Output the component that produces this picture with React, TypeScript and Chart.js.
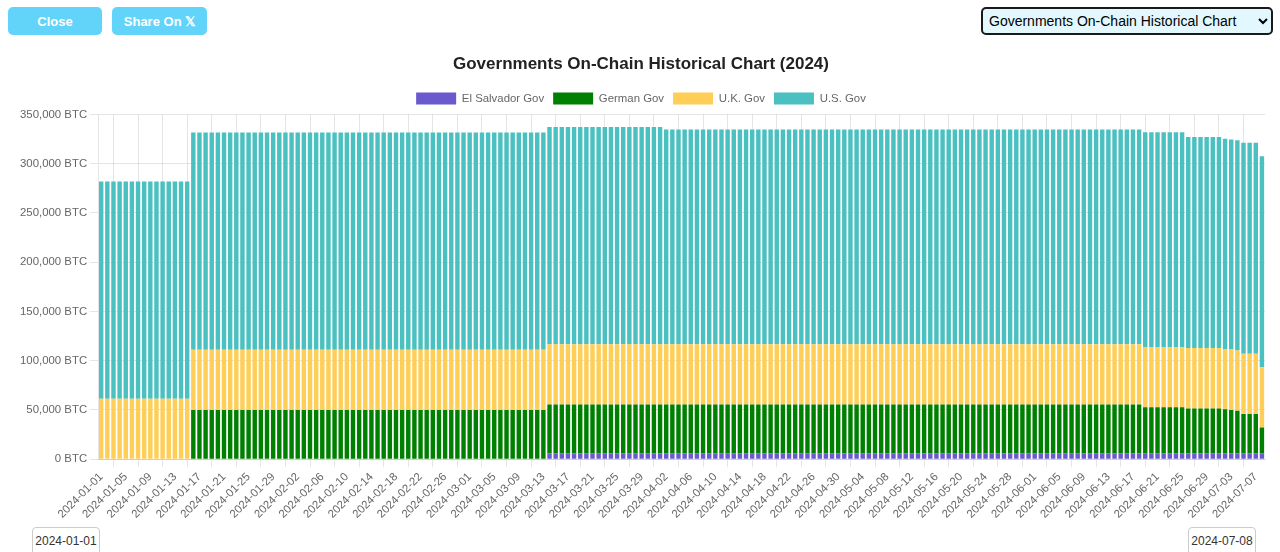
import React, { useEffect, useRef } from "react";
import { Chart, registerables } from "chart.js";

Chart.register(...registerables);

// ---- data ----
const START_DATE = "2024-01-01";
const DAY_COUNT = 190;
const END_DATE = "2024-07-08";

const seriesNames = ["El Salvador Gov", "German Gov", "U.K. Gov", "U.S. Gov"];
const seriesColors = ["#6a5acd", "#008000", "#ffce56", "#4bc0c0"];

// runs of [number of days, BTC held]
const elSalvadorRuns: [number, number][] = [
  [73, 0],
  [117, 5700],
];
const germanRuns: [number, number][] = [
  [15, 0],
  [155, 49800],
  [7, 47000],
  [6, 45800],
  [1, 45000],
  [1, 44300],
  [1, 43500],
  [3, 40000],
  [1, 26300],
];
const ukRuns: [number, number][] = [[190, 61200]];
const usRuns: [number, number][] = [
  [92, 220600],
  [85, 218000],
  [6, 214300],
  [3, 213300],
  [4, 214300],
];

const yTickStep = 50000;
const yMax = 350000;

function expandRuns(runs: [number, number][]): number[] {
  const out: number[] = [];
  for (const [n, v] of runs) for (let i = 0; i < n; i++) out.push(v);
  return out;
}

function buildDates(): string[] {
  const out: string[] = [];
  const d = new Date(START_DATE + "T00:00:00Z");
  for (let i = 0; i < DAY_COUNT; i++) {
    out.push(d.toISOString().slice(0, 10));
    d.setUTCDate(d.getUTCDate() + 1);
  }
  return out;
}

const FONT = 'Arial, "Liberation Sans", Helvetica, sans-serif';
const SMALL = 11.4;

export default function App() {
  const canvasRef = useRef<HTMLCanvasElement | null>(null);

  useEffect(() => {
    document.body.style.margin = "0";
    if (!canvasRef.current) return;
    const labels = buildDates();
    const allRuns = [elSalvadorRuns, germanRuns, ukRuns, usRuns];
    const chart = new Chart(canvasRef.current, {
      type: "bar",
      data: {
        labels,
        datasets: seriesNames.map((name, i) => ({
          label: name,
          data: expandRuns(allRuns[i]),
          backgroundColor: seriesColors[i],
          borderWidth: 0,
        })),
      },
      options: {
        animation: false,
        responsive: true,
        maintainAspectRatio: false,
        font: { family: FONT },
        layout: { padding: { left: 9, right: 7 } },
        plugins: {
          title: {
            display: true,
            text: "Governments On-Chain Historical Chart (2024)",
            color: "#222",
            font: { family: FONT, size: 17, weight: "bold" },
            padding: { top: 12, bottom: 9 },
          },
          legend: {
            display: true,
            labels: {
              color: "#666",
              font: { family: FONT, size: SMALL },
              boxWidth: 40,
              boxHeight: 12,
              padding: 9,
            },
          },
          tooltip: { enabled: false },
        },
        scales: {
          x: {
            stacked: true,
            grid: { color: "rgba(0,0,0,0.1)" },
            ticks: {
              color: "#666",
              font: { family: FONT, size: SMALL },
              minRotation: 45,
              maxRotation: 45,
              autoSkip: true,
              autoSkipPadding: 0,
            },
          },
          y: {
            stacked: true,
            min: 0,
            max: yMax,
            grid: { color: "rgba(0,0,0,0.1)" },
            ticks: {
              stepSize: yTickStep,
              color: "#666",
              font: { family: FONT, size: SMALL },
              callback: (v: any) => Number(v).toLocaleString("en-US") + " BTC",
            },
          },
        },
      },
    });
    return () => chart.destroy();
  }, []);

  const btn: React.CSSProperties = {
    position: "absolute",
    top: 7,
    height: 28,
    width: 95,
    background: "#62d3f9",
    color: "#fff",
    border: "none",
    borderRadius: 5,
    fontFamily: FONT,
    fontWeight: "bold",
    fontSize: 13,
    display: "flex",
    alignItems: "center",
    justifyContent: "center",
  };
  const dateBox: React.CSSProperties = {
    position: "absolute",
    top: 527,
    height: 30,
    width: 68,
    border: "1px solid #ccc",
    borderRadius: 4,
    boxSizing: "border-box",
    fontFamily: FONT,
    fontSize: 12,
    color: "#333",
    paddingTop: 6,
    textAlign: "center",
    background: "#fff",
  };

  return (
    <div
      style={{
        position: "fixed",
        left: 0,
        top: 0,
        width: 1280,
        height: 552,
        overflow: "hidden",
        background: "#fff",
        fontFamily: FONT,
      }}
    >
      <div style={{ ...btn, left: 8, width: 94 }}>Close</div>
      <div style={{ ...btn, left: 112 }}>Share On 𝕏</div>
      <select
        defaultValue="gov"
        style={{
          position: "absolute",
          left: 981,
          top: 7,
          width: 292,
          height: 28,
          border: "2px solid #1a1a1a",
          borderRadius: 5,
          background: "#e2f8fe",
          fontFamily: FONT,
          fontSize: 14,
          color: "#000",
          paddingLeft: 2,
        }}
      >
        <option value="gov">Governments On-Chain Historical Chart</option>
      </select>
      <div style={{ position: "absolute", left: 8, top: 42, width: 1264, height: 482 }}>
        <canvas ref={canvasRef} />
      </div>
      <div style={{ ...dateBox, left: 32 }}>{START_DATE}</div>
      <div style={{ ...dateBox, left: 1188 }}>{END_DATE}</div>
    </div>
  );
}
